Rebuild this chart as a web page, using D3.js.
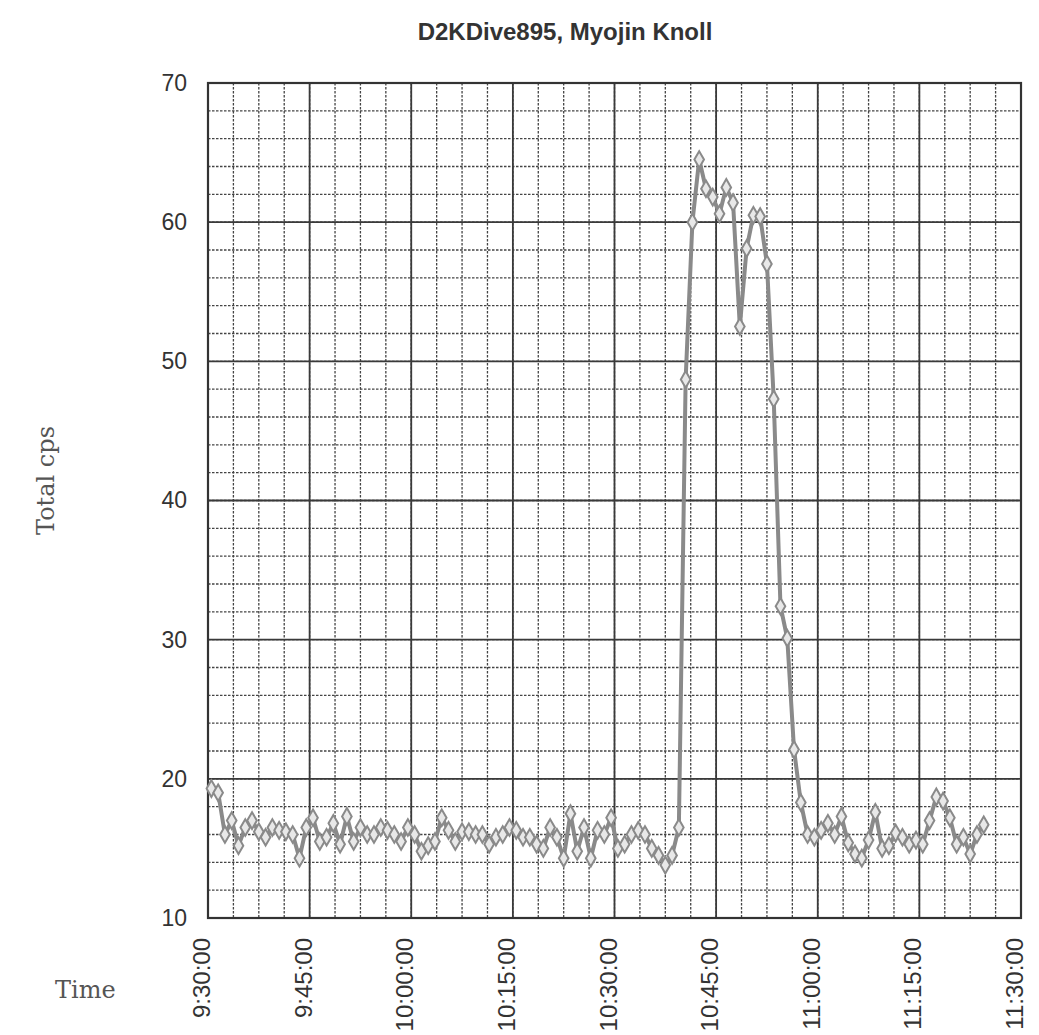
<!DOCTYPE html>
<html>
<head>
<meta charset="utf-8">
<script src="https://cdn.jsdelivr.net/npm/d3@7"></script>
<style>
  body { margin: 0; background: #fff; }
</style>
</head>
<body>
<div class="chart"></div>
<script>
// readings, one per minute starting 9:30:30
var startTime = "9:30:30";
var cpsBefore = [19.3, 19.0, 16.0, 17.0, 15.2, 16.5, 17.0, 16.2, 15.8, 16.5,
    16.3, 16.2, 16.0, 14.3, 16.5, 17.2, 15.5, 15.8, 16.8, 15.3,
    17.3, 15.5, 16.5, 16.0, 16.0, 16.5, 16.3, 16.0, 15.5, 16.5,
    16.0, 14.8, 15.2, 15.5, 17.2, 16.3, 15.5, 16.2, 16.2, 16.0,
    16.0, 15.3, 15.8, 16.0, 16.5, 16.3, 15.8, 15.8, 15.3, 15.0,
    16.5, 15.8, 14.3, 17.5, 14.8, 16.5, 14.3, 16.3, 16.0, 17.2,
    15.0, 15.3, 16.0, 16.3, 16.0, 15.0, 14.5, 13.8, 14.5, 16.5];
var cpsPlume = [48.7, 60.0, 64.5, 62.4, 61.8, 60.6, 62.5, 61.4, 52.5, 58.1,
    60.5, 60.4, 57.0, 47.3, 32.4, 30.1, 22.1, 18.3];
var cpsAfter = [16.0, 15.8, 16.3, 16.8, 16.0, 17.3, 15.4, 14.6, 14.3, 15.6,
    17.6, 15.0, 15.2, 16.1, 15.8, 15.3, 15.6, 15.3, 17.0, 18.7,
    18.4, 17.2, 15.3, 15.8, 14.6, 16.0, 16.7];

var xTickLabels = ["9:30:00", "9:45:00", "10:00:00", "10:15:00", "10:30:00",
    "10:45:00", "11:00:00", "11:15:00", "11:30:00"];
var yTicks = [10, 20, 30, 40, 50, 60, 70];

var title = "D2KDive895, Myojin Knoll";
var yLabel = "Total cps";
var xLabel = "Time";

var W = 1039, H = 1035;
var margin = { top: 83, right: 18, bottom: 117, left: 208 },
    width = W - margin.left - margin.right,
    height = H - margin.top - margin.bottom;

var parse = d3.timeParse("%H:%M:%S");
var t0 = parse(startTime);
var cps = cpsBefore.concat(cpsPlume, cpsAfter);
var data = cps.map(function (v, i) {
    return { time: d3.timeMinute.offset(t0, i), value: v };
});

var xTicks = xTickLabels.map(function (s) { return parse(s); });

var svg = d3.select(".chart")
    .append("svg")
    .attr("width", W)
    .attr("height", H)
    .style("font-family", "'Liberation Sans', Arial, sans-serif");

var g = svg.append("g")
    .attr("transform", "translate(" + margin.left + "," + margin.top + ")");

var x = d3.scaleTime()
    .domain([xTicks[0], xTicks[xTicks.length - 1]])
    .range([0, width]);

var y = d3.scaleLinear()
    .domain([10, 70])
    .range([height, 0]);

// minor grid (dotted), 4 per major step on x, 5 on y
var xMinor = d3.range(1, 32).map(function (i) {
    return d3.timeSecond.offset(xTicks[0], i * 225);
});
g.append("g")
    .selectAll("line")
    .data(xMinor)
    .enter()
    .append("line")
    .attr("x1", function (d) { return x(d); })
    .attr("x2", function (d) { return x(d); })
    .attr("y1", 0)
    .attr("y2", height)
    .attr("stroke", "#444")
    .attr("stroke-width", 1.3)
    .attr("stroke-dasharray", "2.5,1.5");

g.append("g")
    .selectAll("line")
    .data(d3.range(12, 70, 2))
    .enter()
    .append("line")
    .attr("x1", 0)
    .attr("x2", width)
    .attr("y1", function (d) { return y(d); })
    .attr("y2", function (d) { return y(d); })
    .attr("stroke", "#444")
    .attr("stroke-width", 1.3)
    .attr("stroke-dasharray", "2.5,1.5");

// major grid
g.append("g")
    .selectAll("line")
    .data(xTicks)
    .enter()
    .append("line")
    .attr("x1", function (d) { return x(d); })
    .attr("x2", function (d) { return x(d); })
    .attr("y1", 0)
    .attr("y2", height)
    .attr("stroke", "#3a3a3a")
    .attr("stroke-width", 1.8);

g.append("g")
    .selectAll("line")
    .data(yTicks)
    .enter()
    .append("line")
    .attr("x1", 0)
    .attr("x2", width)
    .attr("y1", function (d) { return y(d); })
    .attr("y2", function (d) { return y(d); })
    .attr("stroke", "#3a3a3a")
    .attr("stroke-width", 1.8);

g.append("rect")
    .attr("width", width)
    .attr("height", height)
    .attr("fill", "none")
    .attr("stroke", "#333")
    .attr("stroke-width", 2.2);

// axes, only used for labels
var yAxis = g.append("g")
    .call(d3.axisLeft(y).tickValues(yTicks).tickSize(0).tickPadding(21));
yAxis.select(".domain").remove();
yAxis.selectAll("text")
    .style("font-size", "23px")
    .attr("fill", "#333");

var xAxis = g.append("g")
    .attr("transform", "translate(0," + height + ")")
    .call(d3.axisBottom(x).tickValues(xTicks).tickSize(0)
        .tickFormat(function (d, i) { return xTickLabels[i]; }));
xAxis.select(".domain").remove();
xAxis.selectAll("text")
    .style("font-size", "24px")
    .attr("fill", "#333")
    .attr("text-anchor", "end")
    .attr("dy", null)
    .attr("y", 0)
    .attr("transform", "translate(1.5,20) rotate(-90)");

// data line
var line = d3.line()
    .x(function (d) { return x(d.time); })
    .y(function (d) { return y(d.value); });

g.append("path")
    .datum(data)
    .attr("fill", "none")
    .attr("stroke", "#8a8a8a")
    .attr("stroke-width", 4)
    .attr("stroke-linejoin", "round")
    .attr("d", line);

g.selectAll(".pt")
    .data(data)
    .enter()
    .append("path")
    .attr("class", "pt")
    .attr("transform", function (d) { return "translate(" + x(d.time) + "," + y(d.value) + ")"; })
    .attr("d", d3.symbol().type(d3.symbolDiamond).size(80))
    .attr("fill", "#e8e8e8")
    .attr("stroke", "#8a8a8a")
    .attr("stroke-width", 2);

// titles
svg.append("text")
    .attr("x", 565)
    .attr("y", 40)
    .attr("text-anchor", "middle")
    .style("font-size", "24px")
    .style("font-weight", "bold")
    .attr("fill", "#333")
    .text(title);

svg.append("text")
    .attr("transform", "translate(54," + (margin.top + height / 2 - 20) + ") rotate(-90)")
    .attr("text-anchor", "middle")
    .style("font-family", "'DejaVu Serif', serif")
    .style("font-size", "24px")
    .attr("fill", "#555")
    .text(yLabel);

svg.append("text")
    .attr("x", 55)
    .attr("y", 998)
    .style("font-family", "'DejaVu Serif', serif")
    .style("font-size", "24px")
    .attr("fill", "#555")
    .text(xLabel);
</script>
</body>
</html>
